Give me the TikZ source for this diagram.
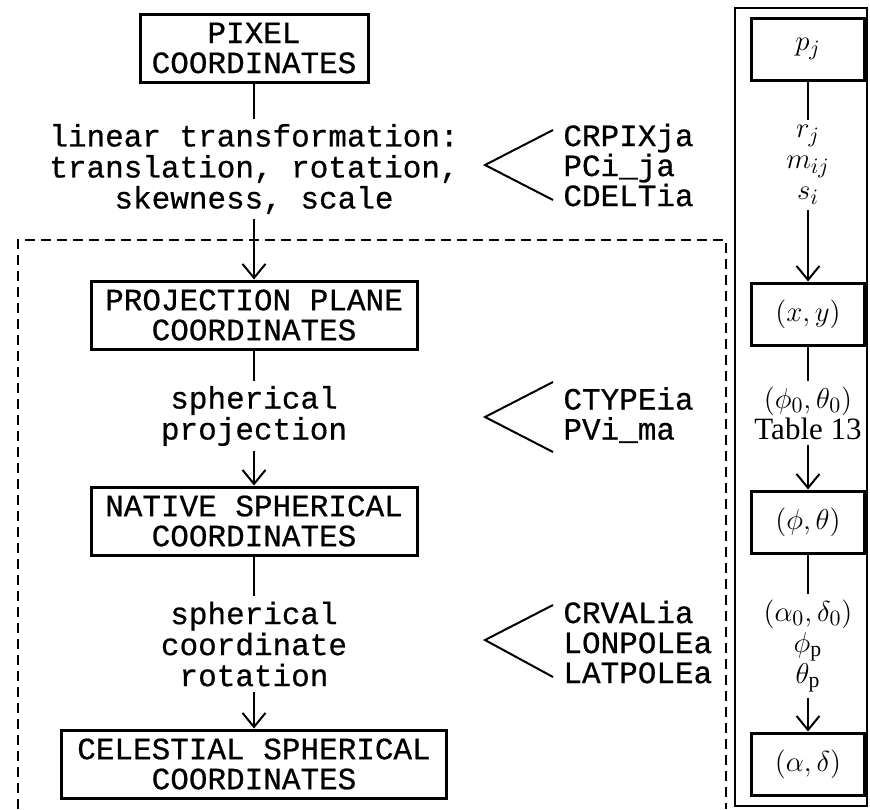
\documentclass[tikz,border=0pt]{standalone}
\usepackage{fontspec}
\setmainfont{Liberation Serif}
\setmonofont{Liberation Mono}[FakeBold=0.6]
\usetikzlibrary{arrows.meta,positioning}

\tikzset{
  coordbox/.style={draw,line width=1.5pt,font=\ttfamily\fontsize{15.5}{15}\selectfont,align=center,inner sep=0pt,minimum height=34pt},
  mathbox/.style={draw,line width=1.5pt,minimum width=56.5pt,minimum height=31pt,inner sep=0pt,font=\fontsize{15.5}{16}\selectfont},
  steplabel/.style={font=\ttfamily\fontsize{15.5}{15.5}\selectfont,align=center,inner sep=2.5pt},
  mathlabel/.style={font=\fontsize{15.5}{15.5}\selectfont,align=center,inner sep=2.5pt},
  keylist/.style={font=\ttfamily\fontsize{15.5}{15}\selectfont,align=left,anchor=west,inner sep=0pt},
  link/.style={line width=1pt},
  chevron/.style={line width=1pt}
}

\begin{document}
\begin{tikzpicture}[x=0.5pt,y=-0.5pt,>={Straight Barb[length=7pt,width=11.5pt]}]
\useasboundingbox (0,0) rectangle (870,809);

% frames
\draw[line width=0.8pt,dash pattern=on 5pt off 3pt] (18,809) |- (726,240) -- (726,809);
\draw[line width=0.8pt] (735,8) rectangle (867,806);

% left chain
\node[coordbox,minimum width=114pt] (pixel) at (254,48) {PIXEL\\COORDINATES};
\node[steplabel] (linear) at (254,169) {linear transformation:\\translation, rotation,\\skewness, scale};
\node[coordbox,minimum width=163pt] (plane) at (254,315) {PROJECTION PLANE\\COORDINATES};
\node[steplabel] (proj) at (254,416) {spherical\\projection};
\node[coordbox,minimum width=163pt] (native) at (254,521) {NATIVE SPHERICAL\\COORDINATES};
\node[steplabel] (rot) at (254,644) {spherical\\coordinate\\rotation};
\node[coordbox,minimum width=192.5pt] (celest) at (254,764) {CELESTIAL SPHERICAL\\COORDINATES};

\draw[link] (pixel.south) -- (linear.north);
\draw[link,->] (linear.south) -- (plane.north);
\draw[link] (plane.south) -- (proj.north);
\draw[link,->] (proj.south) -- (native.north);
\draw[link] (native.south) -- (rot.north);
\draw[link,->] (rot.south) -- (celest.north);

% keywords
\coordinate (k1a) at (553,130);
\coordinate (k1) at (485,165);
\coordinate (k1b) at (553,200);
\draw[chevron] (k1a) -- (k1) -- (k1b);
\node[keylist] (keys1) at (563,165) {CRPIXja\\PCi\_ja\\CDELTia};

\coordinate (k2a) at (553,382);
\coordinate (k2) at (485,417);
\coordinate (k2b) at (553,452);
\draw[chevron] (k2a) -- (k2) -- (k2b);
\node[keylist] (keys2) at (563,415) {CTYPEia\\PVi\_ma};

\coordinate (k3a) at (553,605);
\coordinate (k3) at (485,640);
\coordinate (k3b) at (553,677);
\draw[chevron] (k3a) -- (k3) -- (k3b);
\node[keylist] (keys3) at (563,642) {CRVALia\\LONPOLEa\\LATPOLEa};

% right chain
\node[mathbox] (pj) at (808,49) {$p_j$};
\node[mathlabel] (rms) at (808,165) {$r_j$\\$m_{ij}$\\$s_i$};
\node[mathbox] (xy) at (808,314) {$(x,y)$};
\node[mathlabel] (table) at (808,413) {$(\phi_0,\theta_0)$\\Table 13};
\node[mathbox] (phth) at (808,522) {$(\phi,\theta)$};
\node[mathlabel] (pole) at (808,646) {$(\alpha_0,\delta_0)$\\$\phi_{\mathrm{p}}$\\$\theta_{\mathrm{p}}$};
\node[mathbox] (alde) at (808,764) {$(\alpha,\delta)$};

\draw[link] (pj.south) -- (rms.north);
\draw[link,->] (rms.south) -- (xy.north);
\draw[link] (xy.south) -- (table.north);
\draw[link,->] (table.south) -- (phth.north);
\draw[link] (phth.south) -- (pole.north);
\draw[link,->] (pole.south) -- (alde.north);
\end{tikzpicture}
\end{document}
